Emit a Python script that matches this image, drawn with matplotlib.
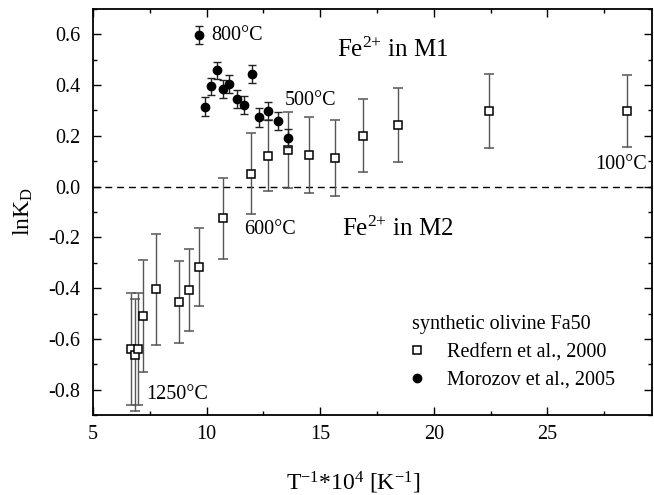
import matplotlib
matplotlib.use("Agg")
import matplotlib.pyplot as plt
from matplotlib.lines import Line2D
from matplotlib.ticker import MultipleLocator, FormatStrFormatter

plt.rcParams['font.family'] = ['Liberation Serif', 'DejaVu Serif']
plt.rcParams['mathtext.fontset'] = 'custom'
plt.rcParams['mathtext.rm'] = 'Liberation Serif'
plt.rcParams['mathtext.it'] = 'Liberation Serif:italic'
plt.rcParams['axes.unicode_minus'] = False

# Redfern et al., 2000 (open squares)
redfern_x = [6.66, 6.85, 6.99, 7.21, 7.76, 8.80, 9.21, 9.66, 10.70, 11.97,
             12.72, 13.57, 14.51, 15.64, 16.90, 18.44, 22.42, 28.50]
redfern_y = [-0.641, -0.663, -0.641, -0.509, -0.405, -0.456, -0.407, -0.318,
             -0.125, 0.051, 0.122, 0.144, 0.123, 0.112, 0.201, 0.243, 0.298, 0.298]
redfern_err = [0.22, 0.22, 0.22, 0.22, 0.22, 0.162, 0.161, 0.153, 0.16, 0.16,
               0.14, 0.15, 0.15, 0.15, 0.145, 0.145, 0.145, 0.14]

# Morozov et al., 2005 (filled circles)
morozov_x = [9.67, 9.93, 10.18, 10.44, 10.70, 10.99, 11.32, 11.64, 11.98,
             12.32, 12.72, 13.13, 13.57]
morozov_y = [0.599, 0.315, 0.395, 0.459, 0.384, 0.403, 0.346, 0.322, 0.443,
             0.273, 0.298, 0.259, 0.193]
morozov_err = [0.035, 0.037, 0.035, 0.033, 0.035, 0.036, 0.035, 0.035, 0.036,
               0.037, 0.036, 0.035, 0.035]

fig = plt.figure(figsize=(6.54, 4.95), dpi=100)
ax = fig.add_axes([93/654, 80/495, 559/654, 406/495])

ax.axhline(0.0, color='black', lw=1.0, ls=(0, (5, 3.5)), zorder=1)

ax.errorbar(redfern_x, redfern_y, yerr=redfern_err, fmt='s', ms=5.2,
            mfc='white', mec='black', mew=1.1, ecolor='#555555', elinewidth=1.0,
            capsize=3.5, capthick=1.0, zorder=3)
ax.errorbar(morozov_x, morozov_y, yerr=morozov_err, fmt='o', ms=6.0,
            mfc='black', mec='black', ecolor='#222222', elinewidth=1.0,
            capsize=3.0, capthick=1.0, zorder=4)

ax.set_xlim(5, 29.6)
ax.set_ylim(-0.9, 0.7)
ax.xaxis.set_major_locator(MultipleLocator(5))
ax.xaxis.set_minor_locator(MultipleLocator(2.5))
ax.yaxis.set_major_locator(MultipleLocator(0.2))
ax.yaxis.set_minor_locator(MultipleLocator(0.1))
ax.yaxis.set_major_formatter(FormatStrFormatter('%.1f'))

ax.tick_params(which='both', direction='in', top=True, right=True,
               labelsize=14.5, width=1.0, colors='black')
ax.tick_params(which='major', length=6)
ax.tick_params(axis='y', which='major', pad=9)
ax.tick_params(axis='x', which='major', pad=7)
ax.tick_params(which='minor', length=3)
for sp in ax.spines.values():
    sp.set_linewidth(1.3)

ax.set_ylabel(r'lnK$_\mathrm{D}$', fontsize=17)
ax.yaxis.set_label_coords(-0.104, 0.5)
ax.set_xlabel(r'T$^{\mathrm{-1}}$*10$^{4}$ [K$^{\mathrm{-1}}$]', fontsize=17)
ax.xaxis.set_label_coords(0.465, -0.135)

tfs = 14.5
ax.text(10.2, 0.597, '800°C', fontsize=tfs, va='center', ha='left')
ax.text(13.45, 0.338, '500°C', fontsize=tfs, va='center', ha='left')
ax.text(11.65, -0.168, '600°C', fontsize=tfs, va='center', ha='left')
ax.text(7.35, -0.82, '1250°C', fontsize=tfs, va='center', ha='left')
ax.text(29.4, 0.086, '100°C', fontsize=tfs, va='center', ha='right')

ax.text(15.75, 0.54, r'Fe$^{2{+}}$ in M1', fontsize=18, va='center', ha='left')
ax.text(15.95, -0.168, r'Fe$^{2{+}}$ in M2', fontsize=18, va='center', ha='left')

handles = [
    Line2D([], [], ls='none', marker='s', ms=5.2, mfc='white', mec='black', mew=1.1),
    Line2D([], [], ls='none', marker='o', ms=6.0, mfc='black', mec='black'),
]
leg = ax.legend(handles, ['Redfern et al., 2000', 'Morozov et al., 2005'],
                title='synthetic olivine Fa50', title_fontsize=tfs, fontsize=tfs,
                frameon=False, loc='upper left', bbox_to_anchor=(0.5635, 0.255),
                alignment='left', handlelength=0.5, handletextpad=1.25,
                labelspacing=0.42, borderpad=0.2, borderaxespad=0.0)

fig.savefig('out.png', dpi=100)
